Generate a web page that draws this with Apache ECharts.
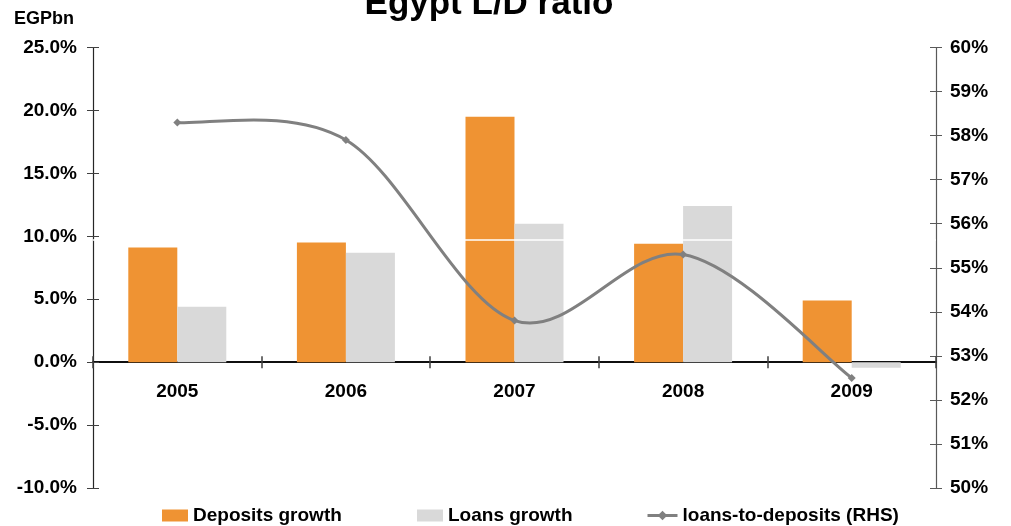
<!DOCTYPE html>
<html>
<head>
<meta charset="utf-8">
<title>Egypt L/D ratio</title>
<script src="https://cdn.jsdelivr.net/npm/echarts@6/dist/echarts.min.js"></script>
<style>
  html, body { margin: 0; padding: 0; background: #fff; }
  #chart { width: 1011px; height: 526px; }
</style>
</head>
<body>
<div id="chart"></div>
<script>
// Annual growth (%) and loans-to-deposits ratio (%, right-hand scale)
const years = ['2005', '2006', '2007', '2008', '2009'];
const depositsGrowth = [9.1, 9.5, 19.5, 9.4, 4.9];
const loansGrowth = [4.4, 8.7, 11.0, 12.4, -0.45];
const loansToDeposits = [58.3, 57.9, 53.8, 55.3, 52.5];

const leftTicks = { min: -10, max: 25, interval: 5 };
const rightTicks = { min: 50, max: 60, interval: 1 };
const whiteRule = 9.74;

const FONT = "'Liberation Sans', Arial, sans-serif";
const labelStyle = { color: '#000', fontFamily: FONT, fontWeight: 'bold', fontSize: 19 };
const LINE_COLOR = '#808080';

const GRID = { left: 93, right: 75, top: 47.5, bottom: 38 };
const chartHeight = 526;

const chart = echarts.init(document.getElementById('chart'), null, { renderer: 'canvas' });

// Pixel offset that lifts the category axis from the grid bottom up to the zero line
const plotH = chartHeight - GRID.top - GRID.bottom;
const zeroLift = -plotH * (0 - leftTicks.min) / (leftTicks.max - leftTicks.min);

function legendAt(item, left, w, icon) {
  const lg = {
    data: [item], left: left, top: 501, itemWidth: w, itemHeight: 12, itemGap: 8,
    textStyle: Object.assign({}, labelStyle),
    selectedMode: false
  };
  if (icon) lg.icon = icon;
  return lg;
}

function categoryAxis(inside, withLabels) {
  return {
    type: 'category', data: years, boundaryGap: true, position: 'bottom', offset: zeroLift,
    axisLine: { onZero: false, lineStyle: { color: '#000', width: 1.5 } },
    axisTick: { show: true, inside: inside, length: 6, lineStyle: { color: '#404040', width: 1.5 } },
    axisLabel: withLabels ? Object.assign({ margin: 20 }, labelStyle) : { show: false },
    splitLine: { show: false }
  };
}

// Cardinal (Catmull-Rom) segment between point i and i+1, in pixel space
function ratioSegment(params, api) {
  const i = params.dataIndex;
  const n = loansToDeposits.length;
  if (i >= n - 1) return null;
  const P = k => {
    const j = Math.max(0, Math.min(n - 1, k));
    return api.coord([j, loansToDeposits[j]]);
  };
  const p0 = P(i - 1), p1 = P(i), p2 = P(i + 1), p3 = P(i + 2);
  const t = 1 / 6;
  return {
    type: 'bezierCurve',
    shape: {
      x1: p1[0], y1: p1[1],
      cpx1: p1[0] + (p2[0] - p0[0]) * t, cpy1: p1[1] + (p2[1] - p0[1]) * t,
      cpx2: p2[0] - (p3[0] - p1[0]) * t, cpy2: p2[1] - (p3[1] - p1[1]) * t,
      x2: p2[0], y2: p2[1]
    },
    style: { stroke: LINE_COLOR, lineWidth: 3, fill: null, lineCap: 'round' }
  };
}

chart.setOption({
  animation: false,
  backgroundColor: '#fff',
  graphic: [
    { type: 'text', x: 14, y: 10,
      style: { text: 'EGPbn', fill: '#000', font: "bold 18px " + FONT } },
    { type: 'text', x: 489, y: -13,
      style: { text: 'Egypt L/D ratio', textAlign: 'center', fill: '#000', font: "bold 35px " + FONT } }
  ],
  legend: [
    legendAt('Deposits growth', 157, 26, 'rect'),
    legendAt('Loans growth', 412, 26, 'rect'),
    legendAt({ name: 'loans-to-deposits (RHS)', itemStyle: { color: LINE_COLOR },
               lineStyle: { color: LINE_COLOR, width: 3, opacity: 1 } }, 641, 30)
  ],
  grid: Object.assign({ containLabel: false }, GRID),
  xAxis: [categoryAxis(false, true), categoryAxis(true, false)],
  yAxis: [
    {
      type: 'value', position: 'left', min: leftTicks.min, max: leftTicks.max, interval: leftTicks.interval,
      axisLine: { show: true, lineStyle: { color: '#262626', width: 1.2 } },
      axisTick: { show: true, inside: false, length: 6, lineStyle: { color: '#404040' } },
      axisLabel: Object.assign({ margin: 16, formatter: v => v.toFixed(1) + '%' }, labelStyle),
      splitLine: { show: false }
    },
    {
      type: 'value', position: 'right', min: rightTicks.min, max: rightTicks.max, interval: rightTicks.interval,
      axisLine: { show: true, lineStyle: { color: '#595959', width: 1.2 } },
      axisTick: { show: true, inside: false, length: 6, lineStyle: { color: '#595959' } },
      axisLabel: Object.assign({ margin: 14, formatter: v => v + '%' }, labelStyle),
      splitLine: { show: false }
    },
    {
      type: 'value', position: 'left', min: leftTicks.min, max: leftTicks.max, interval: leftTicks.interval,
      axisLine: { show: false }, axisLabel: { show: false }, splitLine: { show: false },
      axisTick: { show: true, inside: true, length: 6, lineStyle: { color: '#404040' } }
    },
    {
      type: 'value', position: 'right', min: rightTicks.min, max: rightTicks.max, interval: rightTicks.interval,
      axisLine: { show: false }, axisLabel: { show: false }, splitLine: { show: false },
      axisTick: { show: true, inside: true, length: 6, lineStyle: { color: '#595959' } }
    }
  ],
  series: [
    {
      name: 'Deposits growth', type: 'bar', data: depositsGrowth, yAxisIndex: 0,
      barWidth: 49, barGap: '0%', itemStyle: { color: '#EF9333' }, z: 2
    },
    {
      name: 'Loans growth', type: 'bar', data: loansGrowth, yAxisIndex: 0,
      barWidth: 49, barGap: '0%', itemStyle: { color: '#D9D9D9' }, z: 2,
      markLine: {
        silent: true, z: 3, symbol: ['none', 'none'], label: { show: false },
        lineStyle: { color: '#fff', width: 1.5, type: 'solid' },
        data: [{ yAxis: whiteRule }]
      }
    },
    {
      // smooth curve through the ratio points
      name: 'ratioCurve', type: 'custom', yAxisIndex: 1, silent: true, clip: false,
      data: loansToDeposits.map((v, i) => [i, v]),
      renderItem: ratioSegment, z: 6
    },
    {
      // markers (and legend entry) for the ratio
      name: 'loans-to-deposits (RHS)', type: 'line', data: loansToDeposits, yAxisIndex: 1,
      symbol: 'diamond', symbolSize: 8,
      lineStyle: { color: LINE_COLOR, width: 3, opacity: 0 },
      itemStyle: { color: LINE_COLOR }, z: 7
    }
  ]
});
</script>
</body>
</html>
